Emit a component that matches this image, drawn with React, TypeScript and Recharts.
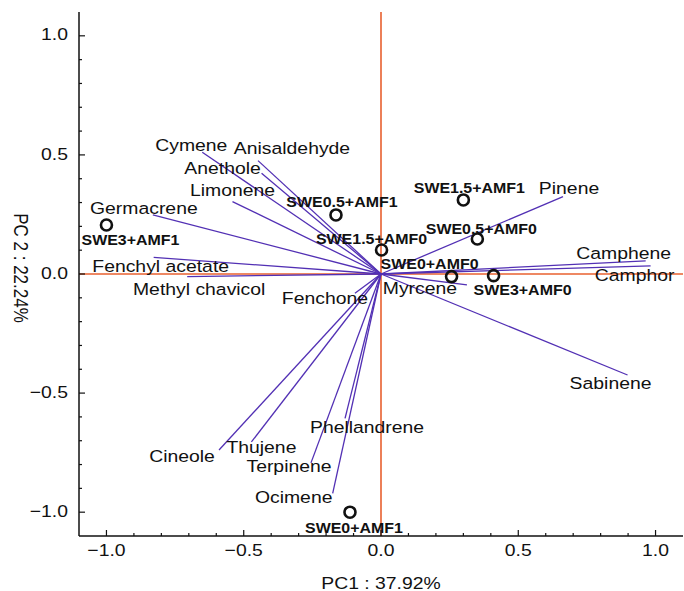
import React from 'react';
import { ScatterChart, Scatter, XAxis, YAxis, ReferenceLine } from 'recharts';

// ---- Data ----
const variables = [
  'Cymene', 'Anisaldehyde', 'Anethole', 'Limonene', 'Germacrene', 'Fenchyl acetate',
  'Methyl chavicol', 'Fenchone', 'Myrcene', 'Pinene', 'Camphene', 'Camphor',
  'Sabinene', 'Phellandrene', 'Cineole', 'Thujene', 'Terpinene', 'Ocimene',
];
const loadingsPC1 = [
  -0.651, -0.448, -0.435, -0.541, -0.831, -0.828,
  -0.706, -0.095, 0.313, 0.663, 0.964, 0.982,
  0.898, -0.131, -0.59, -0.472, -0.255, -0.176,
];
const loadingsPC2 = [
  0.511, 0.476, 0.423, 0.304, 0.248, 0.07,
  -0.011, -0.081, -0.046, 0.325, 0.055, 0.034,
  -0.424, -0.606, -0.739, -0.705, -0.793, -0.921,
];

const samples = [
  'SWE3+AMF1', 'SWE0.5+AMF1', 'SWE1.5+AMF0', 'SWE0+AMF0',
  'SWE3+AMF0', 'SWE0.5+AMF0', 'SWE1.5+AMF1', 'SWE0+AMF1',
];
const scoresPC1 = [-1.0, -0.164, 0.002, 0.257, 0.41, 0.351, 0.3, -0.113];
const scoresPC2 = [0.206, 0.248, 0.101, -0.011, -0.007, 0.147, 0.311, -1.0];

const axisTicks = [
  -1.0, -0.9, -0.8, -0.7, -0.6, -0.5, -0.4, -0.3, -0.2, -0.1, 0,
  0.1, 0.2, 0.3, 0.4, 0.5, 0.6, 0.7, 0.8, 0.9, 1.0,
];
const labeledTicks = [-1.0, -0.5, 0, 0.5, 1.0];
const axisDomain = [-1.1, 1.1];
const xTitle = 'PC1 : 37.92%';
const yTitle = 'PC 2 : 22.24%';

// ---- Layout / style (pixel offsets of labels from their marks) ----
const varLabelOffsets: [number, number][] = [
  [-11, -7], [34, -12], [-39, -5], [0, -11], [-9, -7], [7, 9],
  [12, 13], [-30, 5], [-47, 3], [6, -8], [-22, -7], [-16, 10],
  [-17, 8], [22, 9], [-37, 6], [10, 5], [-22, 4], [-39, 4],
];
const sampleLabelOffsets: [number, number][] = [
  [24, 15], [6, -13], [-10, -11], [-22, -13], [29, 14], [4, -10], [6, -12], [4, 16],
];

const FONT = '"Liberation Sans", Arial, Helvetica, sans-serif';
const SX = 1.14;
const PURPLE = '#5230b4';
const ORANGE = '#e8602f';

const vectorData = variables.map((name, i) => ({
  name, x: loadingsPC1[i], y: loadingsPC2[i], off: varLabelOffsets[i],
}));
const sampleData = samples.map((name, i) => ({
  name, x: scoresPC1[i], y: scoresPC2[i], off: sampleLabelOffsets[i],
}));

const isMajor = (v: number) => Math.abs(v * 2 - Math.round(v * 2)) < 1e-6;
const fmt = (v: number) => (Math.abs(v) < 1e-9 ? '0.0' : v.toFixed(1).replace('-', '\u2212'));

const BottomTick = (props: any) => {
  const { x, y, payload } = props;
  const v = payload.value;
  const major = isMajor(v);
  return (
    <g>
      <line x1={x} y1={y} x2={x} y2={y - (major ? 6 : 3)} stroke="#111" strokeWidth={1.2} />
      {labeledTicks.some((t) => Math.abs(t - v) < 1e-6) && (
        <text transform={`translate(${x},${y + 14}) scale(${SX},1)`} textAnchor="middle"
          dominantBaseline="central" fontSize={17} fontFamily={FONT} fill="#111">{fmt(v)}</text>
      )}
    </g>
  );
};
const TopTick = (props: any) => {
  const { x, y, payload } = props;
  const major = isMajor(payload.value);
  return <line x1={x} y1={y} x2={x} y2={y + (major ? 6 : 3)} stroke="#111" strokeWidth={1.2} />;
};
const LeftTick = (props: any) => {
  const { x, y, payload } = props;
  const v = payload.value;
  const major = isMajor(v);
  return (
    <g>
      <line x1={x} y1={y} x2={x + (major ? 6 : 3)} y2={y} stroke="#111" strokeWidth={1.2} />
      {labeledTicks.some((t) => Math.abs(t - v) < 1e-6) && (
        <text transform={`translate(${x - 11},${y - 1}) scale(${SX},1)`} textAnchor="end"
          dominantBaseline="central" fontSize={17} fontFamily={FONT} fill="#111">{fmt(v)}</text>
      )}
    </g>
  );
};
const RightTick = (props: any) => {
  const { x, y, payload } = props;
  const major = isMajor(payload.value);
  return <line x1={x} y1={y} x2={x - (major ? 6 : 3)} y2={y} stroke="#111" strokeWidth={1.2} />;
};

const VarLabel = (props: any) => {
  const { cx, cy, payload } = props;
  if (cx == null || cy == null) return null;
  const [dx, dy] = payload.off;
  return (
    <text transform={`translate(${cx + dx},${cy + dy}) scale(${SX},1)`} textAnchor="middle"
      dominantBaseline="central" fontSize={17} fontFamily={FONT} fill="#111">{payload.name}</text>
  );
};
const SampleMark = (props: any) => {
  const { cx, cy, payload } = props;
  if (cx == null || cy == null) return null;
  const [dx, dy] = payload.off;
  return (
    <g>
      <circle cx={cx} cy={cy} r={5.5} fill="none" stroke="#111" strokeWidth={2.6} />
      <text transform={`translate(${cx + dx},${cy + dy}) scale(${SX},1)`} textAnchor="middle"
        dominantBaseline="central" fontSize={14} fontWeight="bold" fontFamily={FONT} fill="#111">{payload.name}</text>
    </g>
  );
};

export default function App() {
  return (
    <div style={{ position: 'absolute', left: 0, top: 0, background: '#fff' }}>
      <ScatterChart width={684} height={591} margin={{ top: 12, right: 1, bottom: 0, left: 0 }}>
        <XAxis type="number" dataKey="x" domain={axisDomain} allowDataOverflow ticks={axisTicks}
          interval={0} tickSize={0} tickMargin={0} tick={<BottomTick />} tickLine={false}
          axisLine={{ stroke: '#111', strokeWidth: 1.5 }} height={55}
          label={{
            content: (p: any) => {
              const vb = p.viewBox;
              return (
                <text transform={`translate(${vb.x + vb.width / 2},${vb.y + 47}) scale(${SX},1)`}
                  textAnchor="middle" dominantBaseline="central" fontSize={17} fontFamily={FONT} fill="#111">{xTitle}</text>
              );
            },
          }} />
        <XAxis xAxisId="top" orientation="top" type="number" dataKey="x" domain={axisDomain} allowDataOverflow
          ticks={axisTicks} interval={0} tickSize={0} tickMargin={0} tick={<TopTick />} tickLine={false}
          axisLine={{ stroke: '#999', strokeWidth: 1 }} height={0} />
        <YAxis type="number" dataKey="y" domain={axisDomain} allowDataOverflow ticks={axisTicks}
          interval={0} tickSize={0} tickMargin={0} tick={<LeftTick />} tickLine={false}
          axisLine={{ stroke: '#111', strokeWidth: 1.5 }} width={79}
          label={{
            content: (p: any) => {
              const vb = p.viewBox;
              return (
                <text transform={`translate(${vb.x + 20},${vb.y + vb.height / 2 - 6}) rotate(90) scale(1,${SX})`}
                  textAnchor="middle" dominantBaseline="central" fontSize={17} fontFamily={FONT} fill="#111">{yTitle}</text>
              );
            },
          }} />
        <YAxis yAxisId="right" orientation="right" type="number" dataKey="y" domain={axisDomain} allowDataOverflow
          ticks={axisTicks} interval={0} tickSize={0} tickMargin={0} tick={<RightTick />} tickLine={false}
          axisLine={{ stroke: '#999', strokeWidth: 1 }} width={0} />
        <ReferenceLine x={0} stroke={ORANGE} strokeWidth={1.6} />
        <ReferenceLine y={0} stroke={ORANGE} strokeWidth={1.6} />
        {vectorData.map((d) => (
          <ReferenceLine key={d.name} segment={[{ x: 0, y: 0 }, { x: d.x, y: d.y }]}
            stroke={PURPLE} strokeWidth={1.3} />
        ))}
        <Scatter data={vectorData} shape={<VarLabel />} isAnimationActive={false} />
        <Scatter data={sampleData} shape={<SampleMark />} isAnimationActive={false} />
      </ScatterChart>
    </div>
  );
}
